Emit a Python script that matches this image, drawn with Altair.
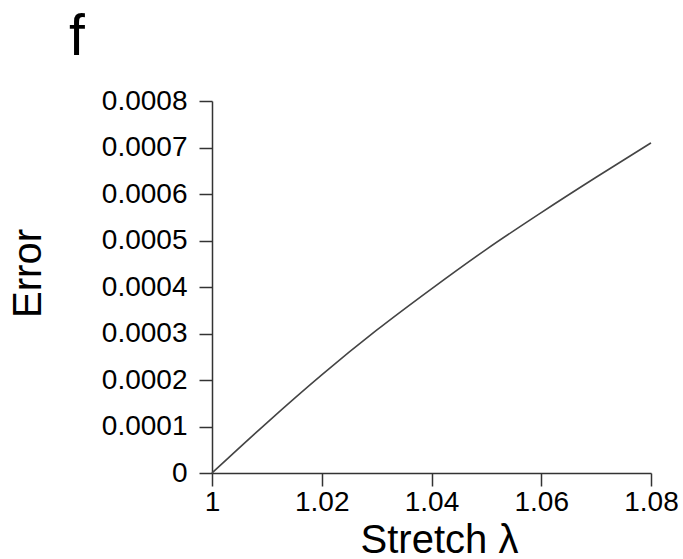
import altair as alt
import pandas as pd

# Values
stretch = [1.00, 1.01, 1.02, 1.03, 1.04, 1.05, 1.06, 1.07, 1.08]
error = [0.0, 0.000108, 0.000211, 0.000307, 0.000396, 0.000481, 0.000560, 0.000636, 0.000710]
x_ticks = [1.0, 1.02, 1.04, 1.06, 1.08]
y_ticks = [0.0, 0.0001, 0.0002, 0.0003, 0.0004, 0.0005, 0.0006, 0.0007, 0.0008]
panel_label = ["f"]

df = pd.DataFrame({"stretch": stretch, "error": error})
lab = pd.DataFrame({"label": panel_label})

FONT = "Liberation Sans"
AX = "#333333"

line = alt.Chart(df).mark_line(color="#444444", strokeWidth=1.6,
                               interpolate="monotone").encode(
    x=alt.X("stretch:Q",
            scale=alt.Scale(domain=[1.0, 1.08], nice=False, zero=False),
            axis=alt.Axis(values=x_ticks, format="~g", title="Stretch λ",
                          grid=False, domainColor=AX, tickColor=AX,
                          domainWidth=1.5, tickWidth=1.5, tickSize=13,
                          labelFont=FONT, labelFontSize=28, labelColor="black",
                          labelPadding=2, labelFlush=False,
                          titleFont=FONT, titleFontSize=40, titleFontWeight="normal",
                          titleColor="black", titleX=227, titleY=79,
                          titleBaseline="alphabetic", titleAlign="center")),
    y=alt.Y("error:Q",
            scale=alt.Scale(domain=[0.0, 0.0008], nice=False, zero=True),
            axis=alt.Axis(values=y_ticks, format="~g", title="Error",
                          grid=False, domainColor=AX, tickColor=AX,
                          domainWidth=1.5, tickWidth=1.5, tickSize=13,
                          labelFont=FONT, labelFontSize=28, labelColor="black",
                          labelPadding=12, labelFlush=False,
                          titleFont=FONT, titleFontSize=40, titleFontWeight="normal",
                          titleColor="black", titleX=-172, titleY=172,
                          titleAngle=270, titleBaseline="alphabetic", titleAlign="center")),
)

label = alt.Chart(lab).mark_text(font=FONT, fontSize=57, color="black",
                                 align="left", baseline="alphabetic").encode(
    text="label:N", x=alt.value(-143), y=alt.value(-46)
)

chart = alt.layer(line, label).properties(
    width=439, height=372,
    background="white",
    autosize=alt.AutoSizeParams(type="none"),
    padding={"left": 212, "top": 101, "right": 32, "bottom": 86},
).configure_view(stroke=None)

chart.save("out.html", embed_options={"renderer": "svg", "actions": False})
